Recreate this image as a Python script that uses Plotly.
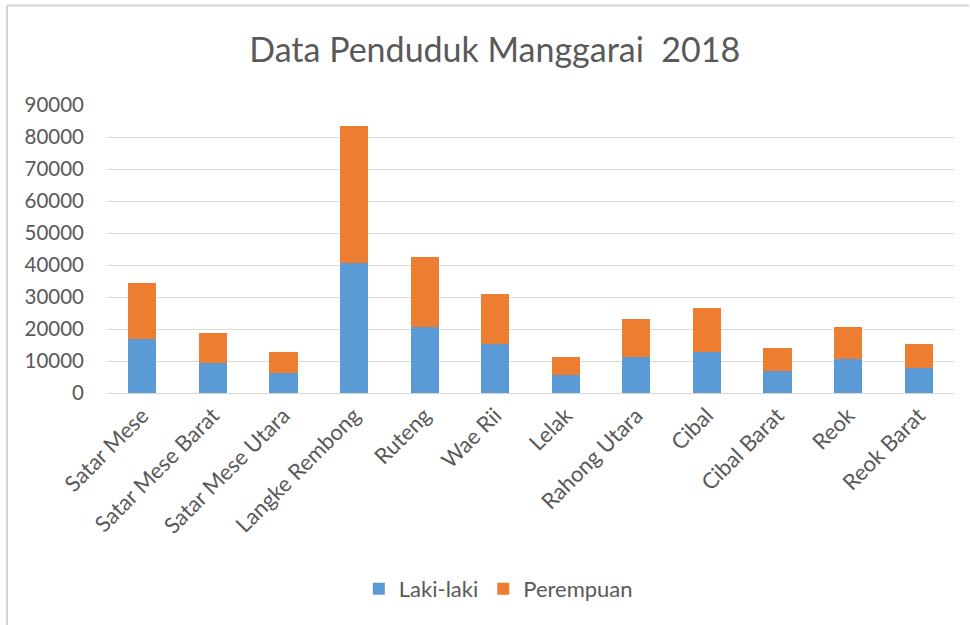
import plotly.graph_objects as go

categories = ["Satar Mese", "Satar Mese Barat", "Satar Mese Utara", "Langke Rembong",
              "Ruteng", "Wae Rii", "Lelak", "Rahong Utara", "Cibal", "Cibal Barat",
              "Reok", "Reok Barat"]
laki_laki = [16890, 9400, 6170, 40560, 20620, 15330, 5670, 11280, 12830, 6790, 10650, 7850]
perempuan = [17440, 9450, 6540, 42770, 21810, 15570, 5700, 11830, 13710, 7380, 10070, 7480]
y_ticks = [0, 10000, 20000, 30000, 40000, 50000, 60000, 70000, 80000, 90000]

FONT = "Lato"
GRAY = "#595959"

fig = go.Figure()
fig.add_trace(go.Bar(name="Laki-laki", x=categories, y=laki_laki,
                     marker=dict(color="#5B9BD5", line=dict(width=0))))
fig.add_trace(go.Bar(name="Perempuan", x=categories, y=perempuan,
                     marker=dict(color="#ED7D31", line=dict(width=0))))

fig.update_layout(
    barmode="stack",
    bargap=0.6,
    width=970, height=625,
    margin=dict(l=107, r=16, t=105, b=231.5),
    paper_bgcolor="white", plot_bgcolor="white",
    title=dict(text="Data Penduduk Manggarai  2018", x=0.51, xanchor="center",
               y=1 - 50 / 625, yanchor="middle",
               font=dict(family=FONT, size=34, color=GRAY)),
    font=dict(family=FONT, color=GRAY),
    legend=dict(orientation="h", x=0.462, xanchor="center", y=-0.68, yanchor="middle",
                font=dict(family=FONT, size=22, color=GRAY),
                itemwidth=30, traceorder="normal"),
    xaxis=dict(tickangle=-45, tickfont=dict(family=FONT, size=22, color=GRAY),
               showline=True, linecolor="#D9D9D9", linewidth=1, ticks=""),
    yaxis=dict(range=[0, 90000], tickvals=y_ticks, tickformat="d",
               tickfont=dict(family=FONT, size=20.5, color=GRAY),
               showgrid=True, gridcolor="#D9D9D9", gridwidth=1.2,
               zeroline=False, ticks="", ticklabelstandoff=22),
    shapes=[
        dict(type="line", xref="paper", yref="paper",
             x0=(7 - 107) / 847, x1=(7 - 107) / 847,
             y0=(393.5 - 5) / 288.8, y1=(393.5 - 630) / 288.8,
             line=dict(color="#D4D4D4", width=2)),
        dict(type="line", xref="paper", yref="paper",
             x0=(7 - 107) / 847, x1=(969 - 107) / 847,
             y0=(393.5 - 5) / 288.8, y1=(393.5 - 5) / 288.8,
             line=dict(color="#D4D4D4", width=2)),
    ],
)

fig.write_html("out.html", config={"displayModeBar": False},
               post_script="document.body.style.margin='0px';")
